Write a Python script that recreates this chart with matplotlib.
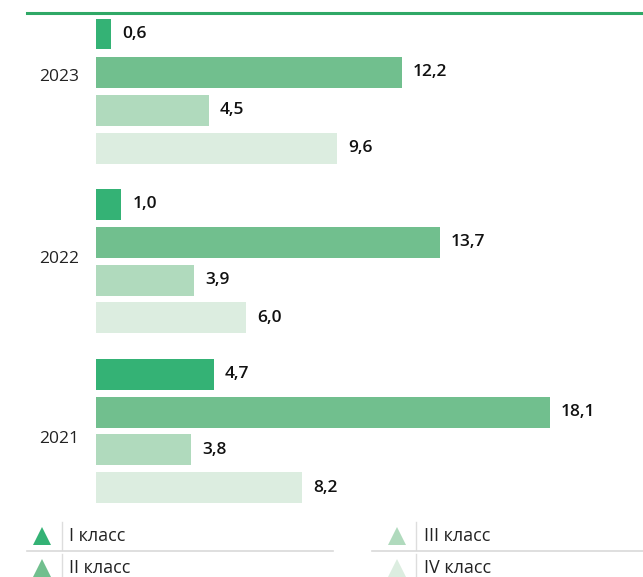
import matplotlib
matplotlib.use("Agg")
import matplotlib.pyplot as plt
from matplotlib.lines import Line2D

years = ["2023", "2022", "2021"]
classes = ["I класс", "II класс", "III класс", "IV класс"]
values = {
    "2023": [0.6, 12.2, 4.5, 9.6],
    "2022": [1.0, 13.7, 3.9, 6.0],
    "2021": [4.7, 18.1, 3.8, 8.2],
}
colors = ["#34b275", "#71bf8e", "#b0dabd", "#dcede0"]
year_label_offsets = [1.12, 1.45, 1.7]  # vertical position of year label within group (bar units)

W, H = 643, 577
fig = plt.figure(figsize=(W / 100, H / 100), dpi=100)
FONT = "Open Sans"

px_per_unit_x = 25.08
ax_left, ax_right = 96, 643
ax_top, ax_bot = 14, 512
ax = fig.add_axes([ax_left / W, 1 - ax_bot / H, (ax_right - ax_left) / W, (ax_bot - ax_top) / H])
ax.set_xlim(0, (ax_right - ax_left) / px_per_unit_x)
row = 38.0
ax.set_ylim((ax_bot - 34) / row, (ax_top - 34) / row)
ax.axis("off")

group_gap = 170 / row
for g, y in enumerate(years):
    base = g * group_gap
    for k, v in enumerate(values[y]):
        yy = base + k
        ax.barh(yy, v, height=31 / row, color=colors[k], left=0)
        ax.annotate(f"{v:.1f}".replace(".", ","), (v, yy), xytext=(8, 0), textcoords="offset points",
                    va="center", ha="left", fontsize=12.5, fontweight="semibold", family=FONT, color="#111111")
    ax.annotate(y, (0, base + year_label_offsets[g]), xytext=(-12, 0), textcoords="offset points",
                va="center", ha="right", fontsize=12.5, family=FONT, color="#222222", annotation_clip=False)

# top green rule
fig.add_artist(Line2D([27 / W, 1], [1 - 13 / H, 1 - 13 / H], color="#2fa866", lw=2.2))

# legend
lax = fig.add_axes([0, 0, 1, 1], facecolor="none")
lax.set_xlim(0, W)
lax.set_ylim(H, 0)
lax.axis("off")
leg_rows = [536, 568]
leg_cols = [(42, 62, 69, 27, 333), (397, 416, 424, 372, 643)]
for i, name in enumerate(classes):
    c = i // 2
    r = i % 2
    tx, sep, lx, l0, l1 = leg_cols[c]
    y0 = leg_rows[r]
    lax.plot(tx, y0, marker="^", markersize=13, color=colors[i], markeredgewidth=0)
    lax.plot([sep, sep], [y0 - 14, y0 + 14], color="#dddddd", lw=1)
    lax.text(lx, y0, name, va="center", ha="left", fontsize=13, family=FONT, color="#222222")
for tx, sep, lx, l0, l1 in leg_cols:
    lax.plot([l0, l1], [551, 551], color="#d9d9d9", lw=1.2)

fig.savefig("out.png", dpi=100)
